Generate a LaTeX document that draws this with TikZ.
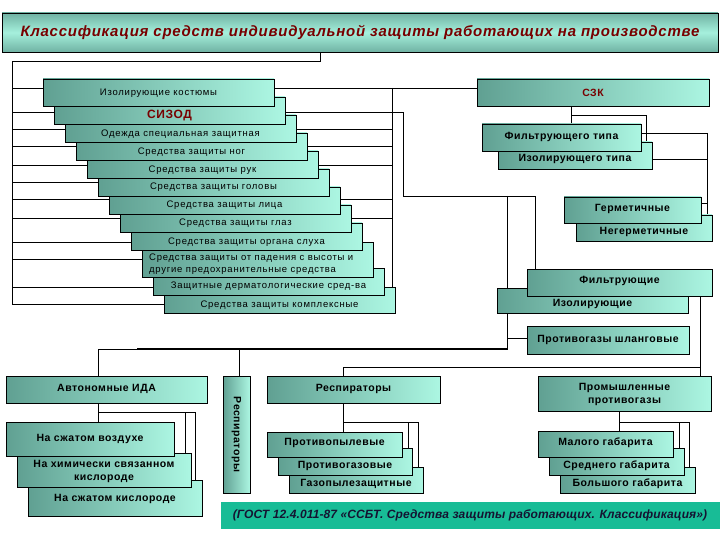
\documentclass[tikz,border=0pt]{standalone}
\usepackage{fontspec}
\setmainfont{Liberation Sans}
\newfontfamily\stk[LetterSpace=8]{Liberation Sans}
\newfontfamily\bsf[LetterSpace=5]{Liberation Sans}
\newfontfamily\ttl[LetterSpace=5]{Liberation Sans}
\newfontfamily\gst[LetterSpace=1]{Liberation Sans}
\usetikzlibrary{backgrounds}
\definecolor{bdark}{RGB}{96,160,146}
\definecolor{blight}{RGB}{172,246,226}
\definecolor{tdark}{RGB}{112,178,163}
\definecolor{tlight}{RGB}{165,240,220}
\definecolor{maroonc}{RGB}{120,0,0}
\definecolor{gostc}{RGB}{24,188,150}
\definecolor{gosttext}{RGB}{20,20,50}
\begin{document}
\begin{tikzpicture}[x=1pt,y=-1pt,
 box/.style={draw=black,line width=0.8pt,left color=bdark,right color=blight,inner sep=0pt},
 stxt/.style={inner sep=0pt,align=center,font=\stk\fontsize{9.5}{12}\selectfont},
 lab/.style={inner sep=0pt,align=center,font=\bsf\bfseries\fontsize{10.5}{13}\selectfont},
 redlab/.style={inner sep=0pt,text=maroonc,font=\bsf\bfseries\fontsize{#1}{14}\selectfont},
 ln/.style={draw=black,line width=0.8pt},
 thk/.style={draw=black,line width=2pt}]
\useasboundingbox (0,0) rectangle (720,540);

% title
\node[draw=black,line width=0.8pt,top color=tdark,bottom color=tdark,middle color=tlight,
      minimum width=716pt,minimum height=39pt,inner sep=0pt] (title) at (360,32.5) {};
\node[inner sep=0pt,text=maroonc,font=\ttl\bfseries\itshape\fontsize{15}{18}\selectfont] (ttext) at (360,32)
 {Классификация средств индивидуальной защиты работающих на производстве};

% stacked left boxes (last drawn first)
\node[box,minimum width=231pt,minimum height=26pt] (b12) at (279.5,300) {};
\node[box,minimum width=231pt,minimum height=27pt] (b11) at (268.5,281.5) {};
\node[box,minimum width=231pt,minimum height=35pt] (b10) at (257.5,259.5) {};
\node[box,minimum width=231pt,minimum height=27pt] (b9) at (246.5,236.5) {};
\node[box,minimum width=231pt,minimum height=27pt] (b8) at (235.5,218.5) {};
\node[box,minimum width=231pt,minimum height=27pt] (b7) at (224.5,200.5) {};
\node[box,minimum width=231pt,minimum height=27pt] (b6) at (213.5,182.5) {};
\node[box,minimum width=231pt,minimum height=27pt] (b5) at (202.5,164.5) {};
\node[box,minimum width=231pt,minimum height=27pt] (b4) at (191.5,146.5) {};
\node[box,minimum width=231pt,minimum height=27pt] (b3) at (180.5,128.5) {};
\node[box,minimum width=231pt,minimum height=27pt] (b2) at (169.5,110.5) {};
\node[box,minimum width=231pt,minimum height=27pt] (b1) at (158.5,92.5) {};

\node[stxt] (t1) at (158.5,93) {Изолирующие костюмы};
\node[redlab=12] (t2) at (169.5,116) {СИЗОД};
\node[stxt] (t3) at (180.5,134) {Одежда специальная защитная};
\node[stxt] (t4) at (191.5,152) {Средства защиты ног};
\node[stxt] (t5) at (202.5,170) {Средства защиты рук};
\node[stxt] (t6) at (213.5,187.5) {Средства защиты головы};
\node[stxt] (t7) at (224.5,205) {Средства защиты лица};
\node[stxt] (t8) at (235.5,223) {Средства защиты глаз};
\node[stxt] (t9) at (246.5,242) {Средства защиты органа слуха};
\node[stxt,align=left,anchor=west] (t10) at (149,264) {Средства защиты от падения с высоты и\\другие предохранительные средства};
\node[stxt] (t11) at (268.5,286) {Защитные дерматологические сред-ва};
\node[stxt] (t12) at (279.5,305) {Средства защиты комплексные};

% SZK branch
\node[box,minimum width=232pt,minimum height=27pt] (szk) at (593,92.5) {};
\node[redlab=10.5] (tszk) at (593,92.5) {СЗК};
\node[box,minimum width=154pt,minimum height=27pt] (it) at (575,155.5) {};
\node[box,minimum width=159pt,minimum height=27pt] (ft) at (561.5,137.5) {};
\node[lab] (tft) at (561.5,136.5) {Фильтрующего типа};
\node[lab] (tit) at (575,159) {Изолирующего типа};
\node[box,minimum width=136pt,minimum height=26pt] (neg) at (644,228) {};
\node[box,minimum width=137pt,minimum height=26pt] (germ) at (632.5,210) {};
\node[lab] (tgerm) at (632.5,208.5) {Герметичные};
\node[lab] (tneg) at (644,232) {Негерметичные};

% gas masks
\node[box,minimum width=191pt,minimum height=25pt] (iz) at (592.5,300.5) {};
\node[box,minimum width=185pt,minimum height=27pt] (fg) at (619.5,282.5) {};
\node[lab] (tfg) at (619.5,281) {Фильтрующие};
\node[lab] (tiz) at (592.5,304) {Изолирующие};
\node[box,minimum width=162pt,minimum height=28pt] (shl) at (608,340) {};
\node[lab] (tshl) at (608,339.5) {Противогазы шланговые};

% industrial gas masks
\node[box,minimum width=173pt,minimum height=35pt] (prom) at (624.5,393.5) {};
\node[lab] (tprom) at (624.5,394.5) {Промышленные\\противогазы};
\node[box,minimum width=135pt,minimum height=26pt] (bol) at (627.5,480) {};
\node[box,minimum width=135pt,minimum height=27pt] (sred) at (616.5,461.5) {};
\node[box,minimum width=135pt,minimum height=26pt] (mal) at (605.5,444) {};
\node[lab] (tmal) at (605.5,442.5) {Малого габарита};
\node[lab] (tsred) at (616.5,466) {Среднего габарита};
\node[lab] (tbol) at (627.5,484) {Большого габарита};

% respirators
\node[box,minimum width=173pt,minimum height=27pt] (resh) at (353.5,389.5) {};
\node[lab] (tresh) at (353.5,389) {Респираторы};
\node[box,minimum width=134pt,minimum height=26pt] (gpz) at (356,480) {};
\node[box,minimum width=134pt,minimum height=27pt] (pg) at (345,461.5) {};
\node[box,minimum width=135pt,minimum height=25pt] (pp) at (334.5,444.5) {};
\node[lab] (tpp) at (334.5,442.5) {Противопылевые};
\node[lab] (tpg) at (345,466) {Противогазовые};
\node[lab] (tgpz) at (356,484) {Газопылезащитные};

\node[box,minimum width=27pt,minimum height=117pt] (resv) at (236.5,434.5) {};
\node[lab,rotate=-90] (tresv) at (236.5,434.5) {Респираторы};

% autonomous
\node[box,minimum width=201pt,minimum height=27pt] (ida) at (106.5,389.5) {};
\node[lab] (tida) at (106.5,389) {Автономные ИДА};
\node[box,minimum width=174pt,minimum height=36pt] (oxy) at (115,498) {};
\node[box,minimum width=174pt,minimum height=34pt] (chem) at (104,470) {};
\node[box,minimum width=168pt,minimum height=34pt] (air) at (90,439) {};
\node[lab] (tair) at (90,439) {На сжатом воздухе};
\node[lab] (tchem) at (104,471) {На химически связанном\\кислороде};
\node[lab] (toxy) at (115,499) {На сжатом кислороде};

% GOST
\node[fill=gostc,minimum width=499pt,minimum height=27pt,inner sep=0pt] (gost) at (470.5,515.5) {};
\node[inner sep=0pt,text=gosttext,font=\gst\bfseries\itshape\fontsize{12}{14}\selectfont] (tgost) at (470,515.5)
 {(ГОСТ 12.4.011-87 «ССБТ. Средства защиты работающих. Классификация»)};

\begin{scope}[on background layer]
 \fill[white] (0,0) rectangle (720,540);
 \draw[ln] (title.south -| 320,0) |- (12,61) -- (12,304) -- (b12.west |- 0,304);
 \foreach \k/\y in {1/88,2/112,3/129,4/146,5/165,6/182,7/199,8/218,9/242,10/259,11/287}
   \draw[ln] (12,\y) -- (b\k.west |- 0,\y);
 \draw[ln] (b1.east |- 0,88) -- (szk.west |- 0,88);
 \draw[ln] (392,88) -- (b12.north -| 392,0);
 \foreach \k/\y in {3/129,4/146,5/165,7/199,8/218}
   \draw[ln] (b\k.east |- 0,\y) -- (392,\y);
 \draw[ln] (b2.east |- 0,112) -| (403,196) -| (fg.north -| 535,0);
 \draw[ln] (507,196) -- (507,349);
 \draw[ln] (ida.north -| 98,0) |- (137,349);
 \draw[thk] (137,349) -- (508,349);
 \draw[ln] (239,349) -- (resv.north -| 239,0);
 \draw[ln] (507,338) -- (shl.west |- 0,338);
 % SZK
 \draw[ln] (szk.south -| 571,0) -- (ft.north -| 571,0);
 \draw[ln] (571,115) -| (it.north -| 646,0);
 \draw[ln] (ft.east |- 0,133) -- (707,133);
 \draw[ln] (it.east |- 0,159) -- (707,159);
 \draw[ln] (707,133) -- (neg.north -| 707,0);
 \draw[ln] (germ.east |- 0,203) -- (707,203);
 % filtering gas masks
 \draw[ln] (fg.south -| 700,0) -- (prom.north -| 700,0);
 \draw[ln] (700,367) -| (resh.north -| 343,0);
 \draw[ln] (resh.south -| 343,0) -- (pp.north -| 343,0);
 \draw[ln] (343,422) -| (gpz.north -| 418,0);
 \draw[ln] (408,422) -- (pg.north -| 408,0);
 \draw[ln] (prom.south -| 619,0) -- (mal.north -| 619,0);
 \draw[ln] (619,422) -| (bol.north -| 689,0);
 \draw[ln] (679,422) -- (sred.north -| 679,0);
 % autonomous
 \draw[ln] (ida.south -| 98,0) -- (air.north -| 98,0);
 \draw[ln] (98,412) -| (oxy.north -| 195,0);
 \draw[ln] (185,412) -- (chem.north -| 185,0);
\end{scope}
\end{tikzpicture}
\end{document}
